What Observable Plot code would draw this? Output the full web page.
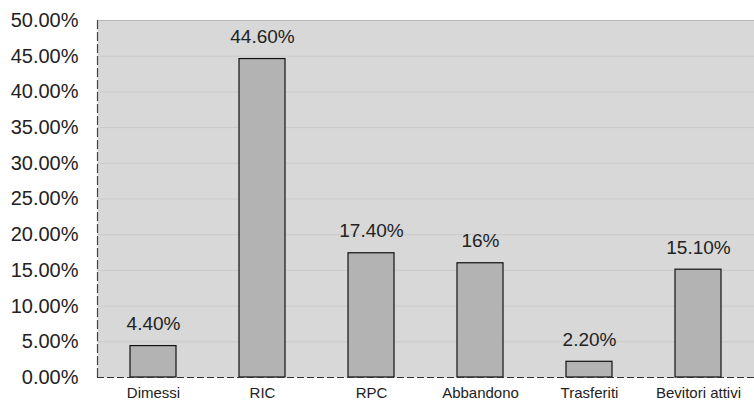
<!DOCTYPE html>
<html>
<head>
<meta charset="utf-8">
<script src="https://cdn.jsdelivr.net/npm/d3@7"></script>
<script src="https://cdn.jsdelivr.net/npm/@observablehq/plot@0.6"></script>
<style>
  html, body { margin: 0; padding: 0; background: #fff; }
  #chart svg { display: block; }
</style>
</head>
<body>
<div id="chart"></div>
<script>
const categories = ["Dimessi", "RIC", "RPC", "Abbandono", "Trasferiti", "Bevitori attivi"];
const values = [4.4, 44.6, 17.4, 16, 2.2, 15.1];
const valueLabels = ["4.40%", "44.60%", "17.40%", "16%", "2.20%", "15.10%"];
const yTicks = [0, 5, 10, 15, 20, 25, 30, 35, 40, 45, 50];

const data = categories.map((c, i) => ({category: c, value: values[i], label: valueLabels[i]}));

const chart = Plot.plot({
  width: 754,
  height: 408,
  marginLeft: 97,
  marginRight: 0,
  marginTop: 20,
  marginBottom: 31,
  style: {fontFamily: "'Liberation Sans', Arial, sans-serif", color: "#222", background: "#fff"},
  x: {domain: categories, paddingInner: 0.58, paddingOuter: 0.29, label: null},
  y: {domain: [0, 50], label: null},
  marks: [
    Plot.frame({fill: "#d8d8d8", stroke: null}),
    Plot.ruleY(yTicks.filter(d => d > 0 && d < 50), {stroke: "#cbcbcb", strokeWidth: 1}),
    Plot.ruleY([50], {stroke: "#b8b8b8", strokeWidth: 1}),
    Plot.barY(data, {x: "category", y: "value", fill: "#b3b3b3", stroke: "#111", strokeWidth: 1.2}),
    Plot.ruleY([0], {stroke: "#333", strokeWidth: 1.2, strokeDasharray: "7,3"}),
    Plot.frame({anchor: "left", stroke: "#444", strokeWidth: 1.2, strokeDasharray: "8,4"}),
    Plot.text(data, {x: "category", y: "value", text: "label", dy: -22, fontSize: 19, fill: "#222"}),
    Plot.axisY({ticks: yTicks, tickFormat: d => d.toFixed(2) + "%", tickSize: 0, tickPadding: 19, fontSize: 20}),
    Plot.axisX({tickSize: 0, tickPadding: 10, fontSize: 15})
  ]
});
document.getElementById("chart").appendChild(chart);
</script>
</body>
</html>
